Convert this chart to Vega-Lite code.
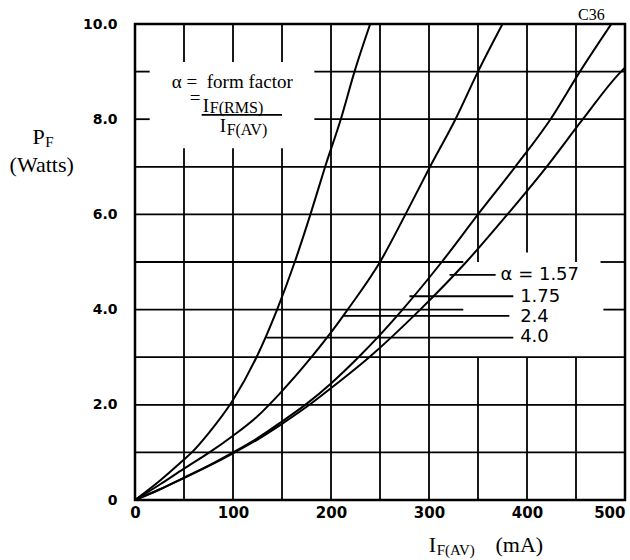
{
  "$schema": "https://vega.github.io/schema/vega-lite/v6.json",
  "width": 490,
  "height": 476,
  "autosize": {"type": "none"},
  "padding": {"left": 135, "top": 24, "right": 5, "bottom": 60},
  "background": "white",
  "config": {
    "view": {"stroke": "black", "strokeWidth": 2.5},
    "axisX": {"grid": false, "ticks": false, "domain": false, "labelFont": "DejaVu Sans", "labelFontWeight": "bold", "labelFontSize": 15, "labelColor": "black", "labelPadding": 5},
    "axisY": {"grid": false, "ticks": false, "domain": false, "labelFont": "DejaVu Sans", "labelFontWeight": "bold", "labelFontSize": 14, "labelColor": "black", "labelPadding": 18}
  },
  "datasets": {
    "vgrid": [
      {"x": 50, "y0": 0, "y1": 7.39}, {"x": 50, "y0": 9.2, "y1": 10},
      {"x": 100, "y0": 0, "y1": 7.39}, {"x": 100, "y0": 9.2, "y1": 10},
      {"x": 150, "y0": 0, "y1": 7.39}, {"x": 150, "y0": 9.2, "y1": 10},
      {"x": 200, "y0": 0, "y1": 10},
      {"x": 250, "y0": 0, "y1": 10},
      {"x": 300, "y0": 0, "y1": 10},
      {"x": 350, "y0": 0, "y1": 3}, {"x": 350, "y0": 5, "y1": 10},
      {"x": 400, "y0": 0, "y1": 3}, {"x": 400, "y0": 5.2, "y1": 10},
      {"x": 450, "y0": 0, "y1": 3}, {"x": 450, "y0": 5, "y1": 10}
    ],
    "hgrid": [
      {"y": 1, "x0": 0, "x1": 500},
      {"y": 2, "x0": 0, "x1": 500},
      {"y": 3, "x0": 0, "x1": 500},
      {"y": 4, "x0": 0, "x1": 335}, {"y": 4, "x0": 478, "x1": 500},
      {"y": 5, "x0": 0, "x1": 335}, {"y": 5, "x0": 475, "x1": 500},
      {"y": 6, "x0": 0, "x1": 500},
      {"y": 7, "x0": 0, "x1": 500},
      {"y": 8, "x0": 0, "x1": 15}, {"y": 8, "x0": 183, "x1": 500},
      {"y": 9, "x0": 0, "x1": 15}, {"y": 9, "x0": 183, "x1": 500}
    ],
    "curves": [
      {"alpha": "4.0", "i": 0, "p": 0}, {"alpha": "4.0", "i": 25, "p": 0.4}, {"alpha": "4.0", "i": 50, "p": 0.85}, {"alpha": "4.0", "i": 58, "p": 1.0}, {"alpha": "4.0", "i": 75, "p": 1.4}, {"alpha": "4.0", "i": 100, "p": 2.1}, {"alpha": "4.0", "i": 124, "p": 3.0}, {"alpha": "4.0", "i": 145, "p": 4.0}, {"alpha": "4.0", "i": 163, "p": 5.0}, {"alpha": "4.0", "i": 179, "p": 6.0}, {"alpha": "4.0", "i": 194, "p": 7.0}, {"alpha": "4.0", "i": 210, "p": 8.0}, {"alpha": "4.0", "i": 224, "p": 9.0}, {"alpha": "4.0", "i": 240, "p": 10.0},
      {"alpha": "2.4", "i": 0, "p": 0}, {"alpha": "2.4", "i": 25, "p": 0.32}, {"alpha": "2.4", "i": 50, "p": 0.66}, {"alpha": "2.4", "i": 76, "p": 1.0}, {"alpha": "2.4", "i": 100, "p": 1.35}, {"alpha": "2.4", "i": 125, "p": 1.76}, {"alpha": "2.4", "i": 147, "p": 2.22}, {"alpha": "2.4", "i": 180, "p": 3.0}, {"alpha": "2.4", "i": 200, "p": 3.52}, {"alpha": "2.4", "i": 217, "p": 4.0}, {"alpha": "2.4", "i": 250, "p": 5.0}, {"alpha": "2.4", "i": 276, "p": 6.0}, {"alpha": "2.4", "i": 301, "p": 7.0}, {"alpha": "2.4", "i": 327, "p": 8.0}, {"alpha": "2.4", "i": 350, "p": 9.0}, {"alpha": "2.4", "i": 375, "p": 10.0},
      {"alpha": "1.75", "i": 0, "p": 0}, {"alpha": "1.75", "i": 25, "p": 0.22}, {"alpha": "1.75", "i": 50, "p": 0.47}, {"alpha": "1.75", "i": 75, "p": 0.72}, {"alpha": "1.75", "i": 100, "p": 1.0}, {"alpha": "1.75", "i": 125, "p": 1.3}, {"alpha": "1.75", "i": 150, "p": 1.65}, {"alpha": "1.75", "i": 175, "p": 2.02}, {"alpha": "1.75", "i": 200, "p": 2.45}, {"alpha": "1.75", "i": 228, "p": 3.0}, {"alpha": "1.75", "i": 250, "p": 3.47}, {"alpha": "1.75", "i": 273, "p": 4.0}, {"alpha": "1.75", "i": 313, "p": 5.0}, {"alpha": "1.75", "i": 350, "p": 6.0}, {"alpha": "1.75", "i": 388, "p": 7.0}, {"alpha": "1.75", "i": 424, "p": 8.0}, {"alpha": "1.75", "i": 454, "p": 9.0}, {"alpha": "1.75", "i": 486, "p": 10.0},
      {"alpha": "1.57", "i": 0, "p": 0}, {"alpha": "1.57", "i": 25, "p": 0.22}, {"alpha": "1.57", "i": 50, "p": 0.46}, {"alpha": "1.57", "i": 75, "p": 0.71}, {"alpha": "1.57", "i": 100, "p": 0.98}, {"alpha": "1.57", "i": 125, "p": 1.27}, {"alpha": "1.57", "i": 150, "p": 1.6}, {"alpha": "1.57", "i": 178, "p": 2.0}, {"alpha": "1.57", "i": 200, "p": 2.35}, {"alpha": "1.57", "i": 239, "p": 3.0}, {"alpha": "1.57", "i": 291, "p": 4.0}, {"alpha": "1.57", "i": 338, "p": 5.0}, {"alpha": "1.57", "i": 380, "p": 6.0}, {"alpha": "1.57", "i": 420, "p": 7.0}, {"alpha": "1.57", "i": 457, "p": 8.0}, {"alpha": "1.57", "i": 496, "p": 9.0}, {"alpha": "1.57", "i": 500, "p": 9.08}
    ],
    "leaders": [
      {"y": 4.73, "x0": 321, "x1": 368},
      {"y": 4.28, "x0": 280, "x1": 386},
      {"y": 3.87, "x0": 213, "x1": 382},
      {"y": 3.41, "x0": 134, "x1": 386},
      {"y": 8.09, "x0": 68, "x1": 150}
    ],
    "legend": [
      {"t": "α = 1.57", "x": 373, "y": 4.73},
      {"t": "1.75", "x": 393, "y": 4.27},
      {"t": "2.4", "x": 393, "y": 3.85},
      {"t": "4.0", "x": 393, "y": 3.43}
    ],
    "serifBig": [
      {"t": "α = \u00a0form factor", "x": 37.6, "y": 8.655},
      {"t": "=", "x": 55.9, "y": 8.32},
      {"t": "I", "x": 69.1, "y": 8.157},
      {"t": "I", "x": 86.4, "y": 7.737}
    ],
    "serifSub": [
      {"t": "F(RMS)", "x": 76.4, "y": 8.12},
      {"t": "F(AV)", "x": 93.5, "y": 7.668}
    ],
    "titles": [
      {"t": "P", "x": -104.7, "y": 7.48},
      {"t": "(Watts)", "x": -128, "y": 6.9},
      {"t": "I", "x": 299.8, "y": -1.086},
      {"t": "(mA)", "x": 367.9, "y": -1.086}
    ],
    "titleSubs": [
      {"t": "F", "x": -91.5, "y": 7.41},
      {"t": "F(AV)", "x": 307.9, "y": -1.155}
    ],
    "code": [
      {"t": "C36", "x": 452, "y": 10.08}
    ]
  },
  "layer": [
    {
      "data": {"name": "vgrid"},
      "mark": {"type": "rule", "stroke": "black", "strokeWidth": 1.8},
      "encoding": {
        "x": {"field": "x", "type": "quantitative", "title": null, "scale": {"domain": [0, 500], "nice": false, "zero": false},
          "axis": {"title": null, "values": [0, 100, 200, 300, 400, 500], "labelAlign": {"condition": {"test": "datum.value == 500", "value": "right"}, "value": "center"}}},
        "y": {"field": "y0", "type": "quantitative", "title": null, "scale": {"domain": [0, 10], "nice": false, "zero": false},
          "axis": {"title": null, "values": [0, 2, 4, 6, 8, 10], "labelExpr": "datum.value == 0 ? '0' : format(datum.value, '.1f')"}},
        "y2": {"field": "y1"}
      }
    },
    {
      "data": {"name": "hgrid"},
      "mark": {"type": "rule", "stroke": "black", "strokeWidth": 1.8},
      "encoding": {
        "y": {"field": "y", "type": "quantitative", "title": null},
        "x": {"field": "x0", "type": "quantitative", "title": null},
        "x2": {"field": "x1"}
      }
    },
    {
      "data": {"name": "curves"},
      "mark": {"type": "line", "stroke": "black", "strokeWidth": 2, "interpolate": "monotone", "clip": true},
      "encoding": {
        "x": {"field": "i", "type": "quantitative", "title": null},
        "y": {"field": "p", "type": "quantitative", "title": null},
        "detail": {"field": "alpha", "type": "nominal"}
      }
    },
    {
      "data": {"name": "leaders"},
      "mark": {"type": "rule", "stroke": "black", "strokeWidth": 1.8},
      "encoding": {
        "y": {"field": "y", "type": "quantitative", "title": null},
        "x": {"field": "x0", "type": "quantitative", "title": null},
        "x2": {"field": "x1"}
      }
    },
    {
      "data": {"name": "legend"},
      "mark": {"type": "text", "font": "DejaVu Sans", "fontSize": 18, "align": "left", "baseline": "middle", "color": "black"},
      "encoding": {
        "x": {"field": "x", "type": "quantitative", "title": null},
        "y": {"field": "y", "type": "quantitative", "title": null},
        "text": {"field": "t"}
      }
    },
    {
      "data": {"name": "serifBig"},
      "mark": {"type": "text", "font": "Liberation Serif", "fontSize": 19, "align": "left", "baseline": "alphabetic", "color": "black"},
      "encoding": {
        "x": {"field": "x", "type": "quantitative", "title": null},
        "y": {"field": "y", "type": "quantitative", "title": null},
        "text": {"field": "t"}
      }
    },
    {
      "data": {"name": "serifSub"},
      "mark": {"type": "text", "font": "Liberation Serif", "fontSize": 16, "align": "left", "baseline": "alphabetic", "color": "black"},
      "encoding": {
        "x": {"field": "x", "type": "quantitative", "title": null},
        "y": {"field": "y", "type": "quantitative", "title": null},
        "text": {"field": "t"}
      }
    },
    {
      "data": {"name": "titles"},
      "mark": {"type": "text", "font": "Liberation Serif", "fontSize": 22, "align": "left", "baseline": "alphabetic", "color": "black"},
      "encoding": {
        "x": {"field": "x", "type": "quantitative", "title": null},
        "y": {"field": "y", "type": "quantitative", "title": null},
        "text": {"field": "t"}
      }
    },
    {
      "data": {"name": "titleSubs"},
      "mark": {"type": "text", "font": "Liberation Serif", "fontSize": 15, "align": "left", "baseline": "alphabetic", "color": "black"},
      "encoding": {
        "x": {"field": "x", "type": "quantitative", "title": null},
        "y": {"field": "y", "type": "quantitative", "title": null},
        "text": {"field": "t"}
      }
    },
    {
      "data": {"name": "code"},
      "mark": {"type": "text", "font": "Liberation Serif", "fontSize": 16, "align": "left", "baseline": "alphabetic", "color": "black"},
      "encoding": {
        "x": {"field": "x", "type": "quantitative", "title": null},
        "y": {"field": "y", "type": "quantitative", "title": null},
        "text": {"field": "t"}
      }
    }
  ]
}
